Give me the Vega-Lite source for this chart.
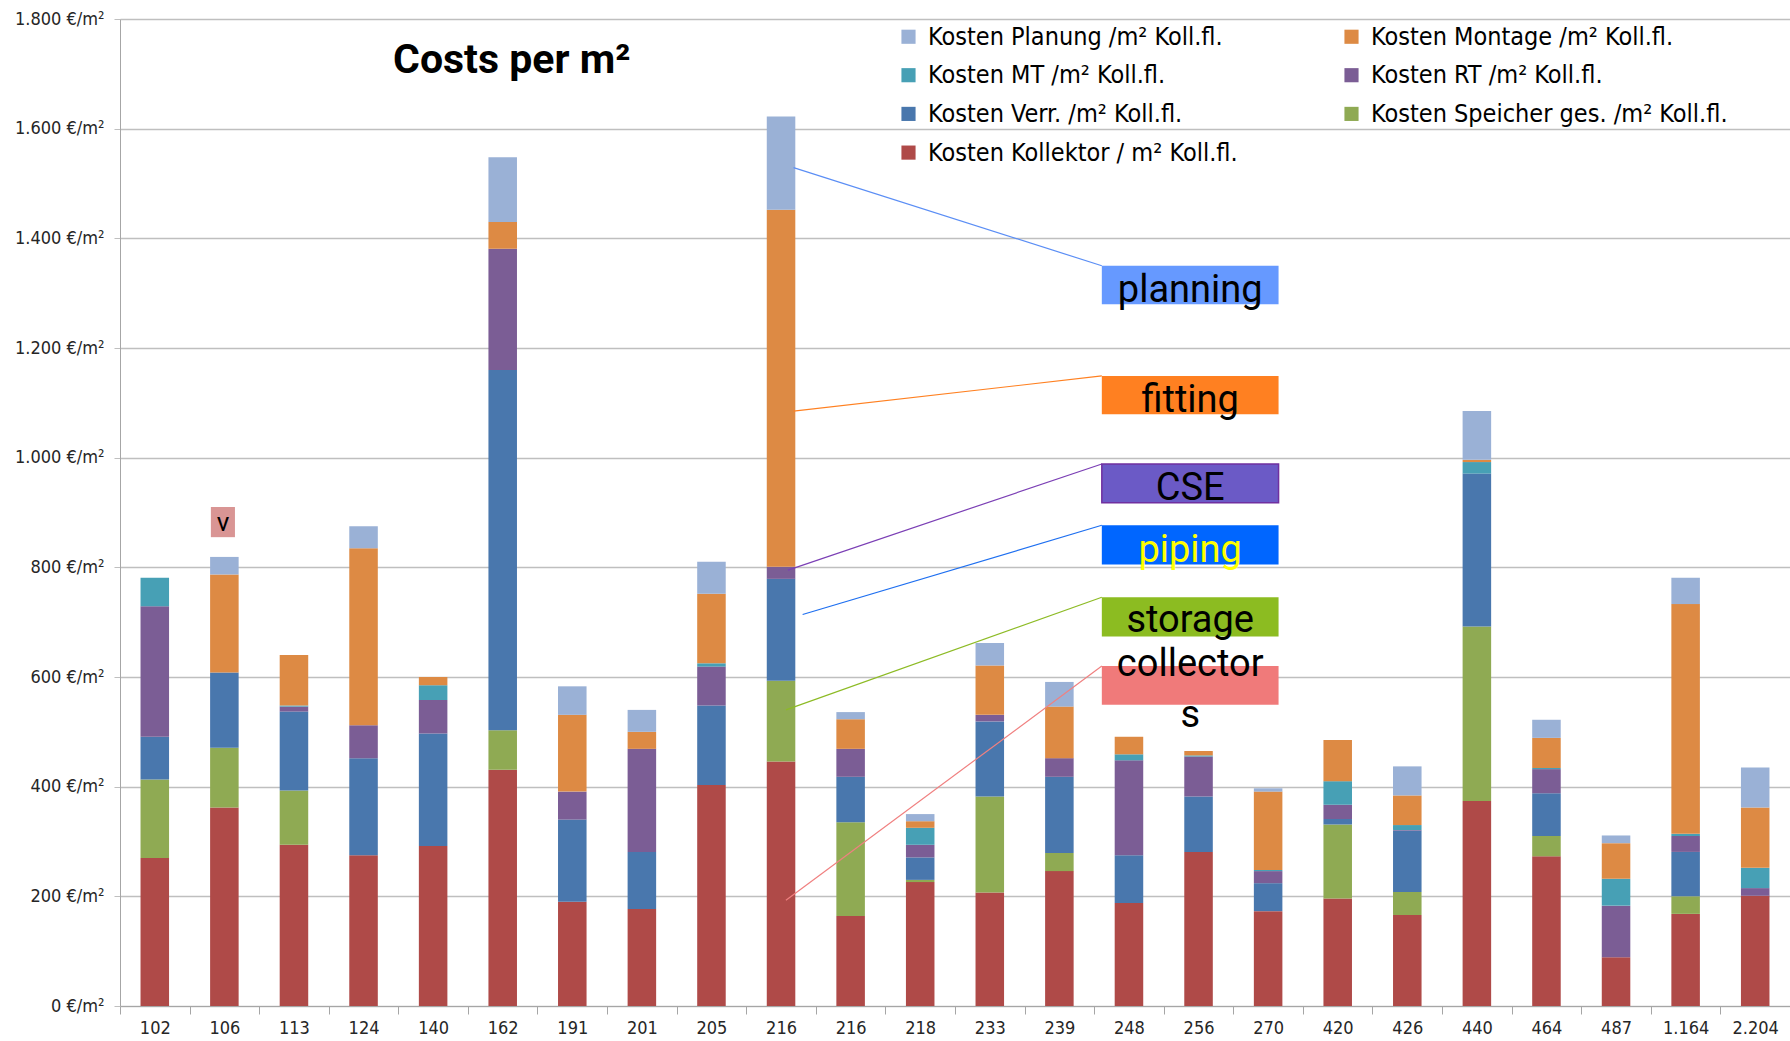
{
  "$schema": "https://vega.github.io/schema/vega-lite/v6.json",
  "width": 1670,
  "height": 987,
  "autosize": {"type": "none"},
  "padding": {"left": 120, "top": 19, "right": 0, "bottom": 35},
  "background": "white",
  "config": {"view": {"stroke": null}, "font": "'DejaVu Sans Condensed', Roboto, sans-serif"},
  "datasets": {
    "costs": [
      {"i": 0, "g_Koll": 270, "f_Spei": 143, "e_Verr": 78, "d_RT": 238, "c_MT": 52, "b_Mont": 0, "a_Plan": 0},
      {"i": 1, "g_Koll": 362, "f_Spei": 109, "e_Verr": 137, "d_RT": 0, "c_MT": 0, "b_Mont": 179, "a_Plan": 32},
      {"i": 2, "g_Koll": 294, "f_Spei": 99, "e_Verr": 144, "d_RT": 9, "c_MT": 2, "b_Mont": 92, "a_Plan": 0},
      {"i": 3, "g_Koll": 275, "f_Spei": 0, "e_Verr": 177, "d_RT": 60, "c_MT": 0, "b_Mont": 323, "a_Plan": 40},
      {"i": 4, "g_Koll": 292, "f_Spei": 0, "e_Verr": 205, "d_RT": 61, "c_MT": 27, "b_Mont": 15, "a_Plan": 0},
      {"i": 5, "g_Koll": 431, "f_Spei": 72, "e_Verr": 657, "d_RT": 221, "c_MT": 0, "b_Mont": 49, "a_Plan": 118},
      {"i": 6, "g_Koll": 190, "f_Spei": 0, "e_Verr": 150, "d_RT": 51, "c_MT": 0, "b_Mont": 140, "a_Plan": 52},
      {"i": 7, "g_Koll": 177, "f_Spei": 0, "e_Verr": 104, "d_RT": 188, "c_MT": 0, "b_Mont": 31, "a_Plan": 40},
      {"i": 8, "g_Koll": 403, "f_Spei": 0, "e_Verr": 145, "d_RT": 71, "c_MT": 6, "b_Mont": 127, "a_Plan": 58},
      {"i": 9, "g_Koll": 446, "f_Spei": 147, "e_Verr": 186, "d_RT": 22, "c_MT": 0, "b_Mont": 651, "a_Plan": 170},
      {"i": 10, "g_Koll": 164, "f_Spei": 171, "e_Verr": 83, "d_RT": 51, "c_MT": 0, "b_Mont": 54, "a_Plan": 13},
      {"i": 11, "g_Koll": 226, "f_Spei": 4, "e_Verr": 41, "d_RT": 23, "c_MT": 31, "b_Mont": 12, "a_Plan": 13},
      {"i": 12, "g_Koll": 207, "f_Spei": 175, "e_Verr": 137, "d_RT": 12, "c_MT": 0, "b_Mont": 90, "a_Plan": 41},
      {"i": 13, "g_Koll": 246, "f_Spei": 33, "e_Verr": 139, "d_RT": 34, "c_MT": 0, "b_Mont": 94, "a_Plan": 45},
      {"i": 14, "g_Koll": 188, "f_Spei": 0, "e_Verr": 87, "d_RT": 173, "c_MT": 11, "b_Mont": 32, "a_Plan": 0},
      {"i": 15, "g_Koll": 281, "f_Spei": 0, "e_Verr": 101, "d_RT": 73, "c_MT": 2, "b_Mont": 8, "a_Plan": 0},
      {"i": 16, "g_Koll": 173, "f_Spei": 0, "e_Verr": 51, "d_RT": 22, "c_MT": 2, "b_Mont": 143, "a_Plan": 6},
      {"i": 17, "g_Koll": 196, "f_Spei": 135, "e_Verr": 10, "d_RT": 26, "c_MT": 43, "b_Mont": 75, "a_Plan": 0},
      {"i": 18, "g_Koll": 166, "f_Spei": 42, "e_Verr": 112, "d_RT": 1, "c_MT": 9, "b_Mont": 54, "a_Plan": 53},
      {"i": 19, "g_Koll": 374, "f_Spei": 318, "e_Verr": 279, "d_RT": 0, "c_MT": 21, "b_Mont": 4, "a_Plan": 89},
      {"i": 20, "g_Koll": 273, "f_Spei": 37, "e_Verr": 78, "d_RT": 44, "c_MT": 2, "b_Mont": 55, "a_Plan": 33},
      {"i": 21, "g_Koll": 89, "f_Spei": 0, "e_Verr": 0, "d_RT": 94, "c_MT": 49, "b_Mont": 65, "a_Plan": 14},
      {"i": 22, "g_Koll": 168, "f_Spei": 32, "e_Verr": 81, "d_RT": 29, "c_MT": 4, "b_Mont": 419, "a_Plan": 48},
      {"i": 23, "g_Koll": 201, "f_Spei": 0, "e_Verr": 0, "d_RT": 14, "c_MT": 37, "b_Mont": 110, "a_Plan": 73}
    ],
    "notes": [
      {"name": "planning", "x1": 14.11, "x2": 16.65, "y1": 1280, "y2": 1350, "lx": 9.68, "ly": 1529},
      {"name": "fitting", "x1": 14.11, "x2": 16.65, "y1": 1079, "y2": 1149, "lx": 9.68, "ly": 1085},
      {"name": "CSE", "x1": 14.11, "x2": 16.65, "y1": 918, "y2": 988.5, "lx": 9.6, "ly": 795},
      {"name": "piping", "x1": 14.11, "x2": 16.65, "y1": 805, "y2": 876.7, "lx": 9.81, "ly": 714},
      {"name": "storage", "x1": 14.11, "x2": 16.65, "y1": 674, "y2": 745.4, "lx": 9.57, "ly": 540},
      {"name": "collectors", "x1": 14.11, "x2": 16.65, "y1": 549.5, "y2": 620, "lx": 9.57, "ly": 193}
    ],
    "labels": [
      {"name": "planning", "t": "planning", "x": 15.38, "y": 1284.5},
      {"name": "fitting", "t": "fitting", "x": 15.38, "y": 1084},
      {"name": "CSE", "t": "CSE", "x": 15.38, "y": 922.8},
      {"name": "piping", "t": "piping", "x": 15.38, "y": 810.3},
      {"name": "storage", "t": "storage", "x": 15.38, "y": 681.6},
      {"name": "collectors", "t": "collector", "x": 15.38, "y": 602.4},
      {"name": "collectors", "t": "s", "x": 15.38, "y": 509.4}
    ]
  },
  "layer": [
    {
      "data": {"name": "costs"},
      "transform": [{"fold": ["g_Koll", "f_Spei", "e_Verr", "d_RT", "c_MT", "b_Mont", "a_Plan"], "as": ["comp", "value"]}],
      "mark": {"type": "bar", "width": {"band": 0.41}},
      "encoding": {
        "x": {
          "field": "i", "type": "ordinal",
          "scale": {"paddingInner": 0, "paddingOuter": 0},
          "axis": {
            "title": null, "labelAngle": 0, "tickBand": "extent", "tickSize": 8,
            "domainColor": "#A6A6A6", "tickColor": "#A6A6A6", "labelFontSize": 18, "labelColor": "#262626",
            "labelPadding": 5, "grid": false,
            "labelExpr": "['102','106','113','124','140','162','191','201','205','216','216','218','233','239','248','256','270','420','426','440','464','487','1.164','2.204'][datum.value]"
          }
        },
        "y": {
          "field": "value", "type": "quantitative", "stack": "zero",
          "scale": {"domain": [0, 1800], "nice": false},
          "axis": {
            "title": null, "values": [0, 200, 400, 600, 800, 1000, 1200, 1400, 1600, 1800],
            "grid": true, "gridColor": "#BFBFBF", "gridWidth": 1.5,
            "domainColor": "#A6A6A6", "tickColor": "#BFBFBF", "tickSize": 6,
            "labelFontSize": 18, "labelColor": "#262626", "labelPadding": 10,
            "labelExpr": "replace(format(datum.value, ',.0f'), ',', '.') + ' €/m²'"
          }
        },
        "order": {"field": "comp", "sort": "descending"},
        "color": {
          "field": "comp", "type": "nominal",
          "scale": {
            "domain": ["a_Plan", "b_Mont", "c_MT", "d_RT", "e_Verr", "f_Spei", "g_Koll"],
            "range": ["#9AB1D6", "#DD8A44", "#47A0B5", "#7B5D95", "#4977AD", "#8FAA53", "#AF4A48"]
          },
          "legend": {
            "orient": "none", "legendX": 776, "legendY": 5, "columns": 2, "direction": "horizontal", "title": null,
            "symbolType": "square", "symbolSize": 200, "symbolStrokeWidth": 0,
            "labelFontSize": 25, "labelColor": "#000000",
            "rowPadding": 12.7, "columnPadding": 101, "labelOffset": 7, "labelLimit": 600, "padding": 0,
            "labelExpr": "datum.label == 'a_Plan' ? 'Kosten Planung /m² Koll.fl.' : datum.label == 'b_Mont' ? 'Kosten Montage /m² Koll.fl.' : datum.label == 'c_MT' ? 'Kosten MT /m² Koll.fl.' : datum.label == 'd_RT' ? 'Kosten RT /m² Koll.fl.' : datum.label == 'e_Verr' ? 'Kosten Verr. /m² Koll.fl.' : datum.label == 'f_Spei' ? 'Kosten Speicher ges. /m² Koll.fl.' : 'Kosten Kollektor / m² Koll.fl.'"
          }
        }
      }
    },
    {
      "data": {"name": "notes"},
      "mark": {"type": "rule", "strokeWidth": 1.2},
      "encoding": {
        "x": {"field": "lx", "type": "quantitative", "scale": {"domain": [0, 24], "nice": false, "zero": false}, "axis": null},
        "y": {"field": "ly", "type": "quantitative", "scale": {"domain": [0, 1800], "nice": false}, "axis": null},
        "x2": {"field": "x1"},
        "y2": {"field": "y2"},
        "stroke": {
          "field": "name", "type": "nominal", "legend": null,
          "scale": {"domain": ["planning", "fitting", "CSE", "piping", "storage", "collectors"],
                    "range": ["#5B8EF5", "#FF8021", "#7B3FB5", "#1E6FF0", "#8DBB25", "#F08080"]}
        }
      }
    },
    {
      "data": {"name": "notes"},
      "mark": {"type": "rect"},
      "encoding": {
        "x": {"field": "x1", "type": "quantitative", "scale": {"domain": [0, 24], "nice": false, "zero": false}, "axis": null},
        "x2": {"field": "x2"},
        "y": {"field": "y1", "type": "quantitative", "scale": {"domain": [0, 1800], "nice": false}, "axis": null},
        "y2": {"field": "y2"},
        "fill": {
          "field": "name", "type": "nominal", "legend": null,
          "scale": {"domain": ["planning", "fitting", "CSE", "piping", "storage", "collectors"],
                    "range": ["#6699FF", "#FF8021", "#6B5AC6", "#0066FF", "#8CBC21", "#F07A7A"]}
        },
        "stroke": {"condition": {"test": "datum.name === 'CSE'", "value": "#7030A0"}, "value": null},
        "strokeWidth": {"value": 1.5}
      }
    },
    {
      "data": {"name": "labels"},
      "mark": {"type": "text", "font": "Roboto", "fontSize": 38, "align": "center", "baseline": "alphabetic"},
      "encoding": {
        "x": {"field": "x", "type": "quantitative", "scale": {"domain": [0, 24], "nice": false, "zero": false}, "axis": null},
        "y": {"field": "y", "type": "quantitative", "scale": {"domain": [0, 1800], "nice": false}, "axis": null},
        "text": {"field": "t"},
        "color": {"condition": {"test": "datum.name === 'piping'", "value": "#FFFF00"}, "value": "#000000"}
      }
    },
    {
      "data": {"values": [{"t": "v"}]},
      "mark": {"type": "rect", "color": "#D99594"},
      "encoding": {
        "x": {"datum": 1.306, "type": "quantitative", "scale": {"domain": [0, 24], "nice": false, "zero": false}, "axis": null},
        "x2": {"datum": 1.652},
        "y": {"datum": 855, "type": "quantitative", "scale": {"domain": [0, 1800], "nice": false}, "axis": null},
        "y2": {"datum": 910}
      }
    },
    {
      "data": {"values": [{"t": "v", "x": 1.48, "y": 866}]},
      "mark": {"type": "text", "font": "Roboto", "fontSize": 26, "align": "center", "baseline": "alphabetic", "color": "#000000"},
      "encoding": {
        "x": {"field": "x", "type": "quantitative", "scale": {"domain": [0, 24], "nice": false, "zero": false}, "axis": null},
        "y": {"field": "y", "type": "quantitative", "scale": {"domain": [0, 1800], "nice": false}, "axis": null},
        "text": {"field": "t"}
      }
    },
    {
      "data": {"values": [{"t": "Costs per m²", "x": 5.63, "y": 1702}]},
      "mark": {"type": "text", "font": "Roboto", "fontSize": 41, "fontWeight": "bold", "align": "center", "baseline": "alphabetic", "color": "#000000"},
      "encoding": {
        "x": {"field": "x", "type": "quantitative", "scale": {"domain": [0, 24], "nice": false, "zero": false}, "axis": null},
        "y": {"field": "y", "type": "quantitative", "scale": {"domain": [0, 1800], "nice": false}, "axis": null},
        "text": {"field": "t"}
      }
    }
  ],
  "resolve": {"scale": {"x": "independent", "y": "independent"}}
}
